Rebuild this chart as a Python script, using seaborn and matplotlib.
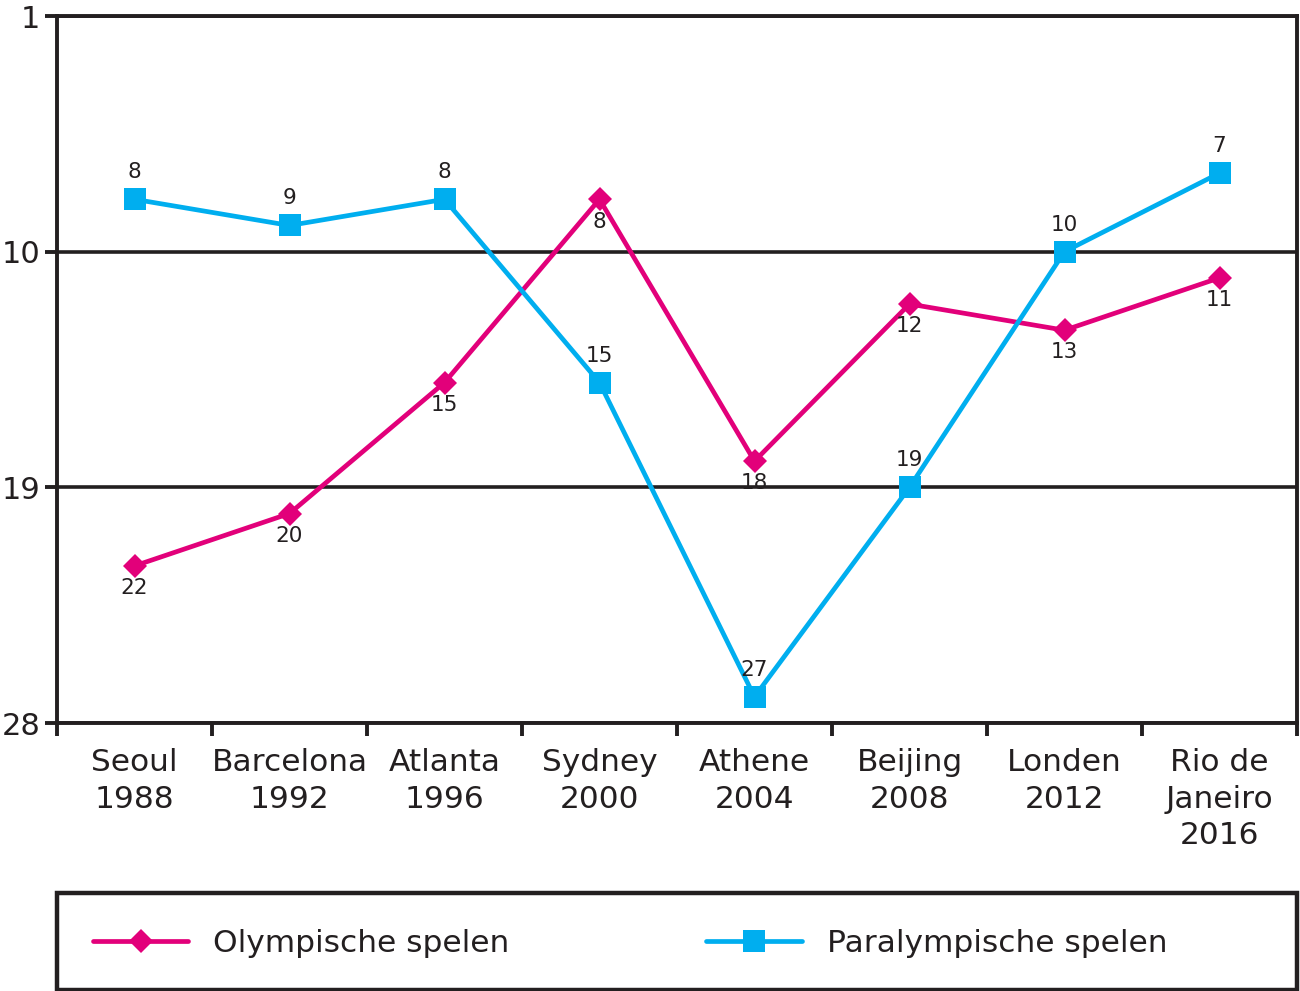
import matplotlib
matplotlib.use("Agg")
import matplotlib.pyplot as plt
import seaborn as sns
import pandas as pd
from matplotlib.patches import Rectangle
from matplotlib.ticker import FixedLocator

categories = ["Seoul\n1988", "Barcelona\n1992", "Atlanta\n1996", "Sydney\n2000",
              "Athene\n2004", "Beijing\n2008", "Londen\n2012", "Rio de\nJaneiro\n2016"]
olympic = [22, 20, 15, 8, 18, 12, 13, 11]
paralympic = [8, 9, 8, 15, 27, 19, 10, 7]
series_names = ["Olympische spelen", "Paralympische spelen"]
colors = ["#e2007a", "#00aeef"]
yticks = [1, 10, 19, 28]

sns.set_theme(style="white")
plt.rcParams["font.family"] = ["DejaVu Sans"]

df = pd.DataFrame({
    "pos": list(range(len(categories))) * 2,
    "rank": olympic + paralympic,
    "series": [series_names[0]] * len(olympic) + [series_names[1]] * len(paralympic),
})

fig = plt.figure(figsize=(13, 9.91), dpi=100)
ax = fig.add_axes([57/1300, 1-723/991, (1297-57)/1300, (723-16)/991])

sns.lineplot(data=df, x="pos", y="rank", hue="series", style="series",
             palette=dict(zip(series_names, colors)),
             markers={series_names[0]: "D", series_names[1]: "s"},
             dashes=False, linewidth=3.4, markersize=12, markeredgewidth=0,
             ax=ax, legend=True, zorder=3)
for line in ax.get_lines():
    if line.get_marker() == "s":
        line.set_markersize(16)

ax.set_xlim(-0.5, len(categories) - 0.5)
ax.set_ylim(28, 1)
ax.set_yticks(yticks)
ax.set_yticklabels([str(v) for v in yticks], fontsize=22)
ax.set_xticks(range(len(categories)))
ax.set_xticklabels(categories, fontsize=22.5, linespacing=1.33)
ax.xaxis.set_minor_locator(FixedLocator([i - 0.5 for i in range(len(categories) + 1)]))
ax.tick_params(axis="x", which="major", length=0, pad=18, colors="#231f20")
ax.tick_params(axis="x", which="minor", length=9, width=2.8, direction="out", color="#231f20", bottom=True)
ax.tick_params(axis="y", which="major", length=9, width=2.8, direction="out", pad=3, colors="#231f20", left=True)
ax.set_xlabel("")
ax.set_ylabel("")
for s in ax.spines.values():
    s.set_linewidth(2.8)
    s.set_color("#231f20")
    s.set_visible(True)
ax.yaxis.grid(True, color="#231f20", linewidth=2.6)
ax.set_axisbelow(True)

for i, v in enumerate(olympic):
    ax.annotate(str(v), (i, v), xytext=(0, -16), textcoords="offset points",
                ha="center", va="center", fontsize=15.5, color="#231f20")
for i, v in enumerate(paralympic):
    ax.annotate(str(v), (i, v), xytext=(0, 19.5), textcoords="offset points",
                ha="center", va="center", fontsize=15.5, color="#231f20")

handles, labels = ax.get_legend_handles_labels()
ax.get_legend().remove()

fig.patches.append(Rectangle((57/1300, 1-990/991), (1297-57)/1300, (990-893)/991,
                             transform=fig.transFigure, fill=False,
                             edgecolor="#231f20", linewidth=3.2))
fig.legend(handles, labels, loc="center left", bbox_to_anchor=(93/1300, 1-943/991),
           ncol=2, frameon=False, fontsize=22.5, handlelength=3.05, handletextpad=0.8,
           columnspacing=6.3, borderpad=0, borderaxespad=0, labelcolor="#231f20")

fig.savefig("out.png", dpi=100)
